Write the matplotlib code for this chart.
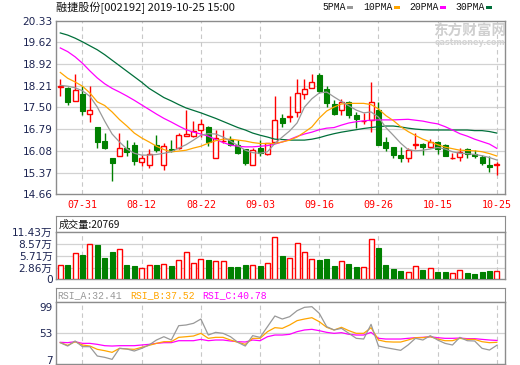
import matplotlib
matplotlib.use("Agg")
import matplotlib.pyplot as plt
from matplotlib.patches import Rectangle
import numpy as np

# ---------------- data ----------------
dates = ['07-26', '07-29', '07-30', '07-31', '08-01', '08-02', '08-05', '08-06', '08-07', '08-08',
         '08-09', '08-12', '08-13', '08-14', '08-15', '08-16', '08-19', '08-20', '08-21', '08-22',
         '08-23', '08-26', '08-27', '08-28', '08-29', '08-30', '09-02', '09-03', '09-04', '09-05',
         '09-06', '09-09', '09-10', '09-11', '09-12', '09-16', '09-17', '09-18', '09-19', '09-20',
         '09-23', '09-24', '09-25', '09-26', '09-27', '09-30', '10-08', '10-09', '10-10', '10-11',
         '10-14', '10-15', '10-16', '10-17', '10-18', '10-21', '10-22', '10-23', '10-24', '10-25']
tick_dates = ['07-31', '08-12', '08-22', '09-03', '09-16', '09-26', '10-15', '10-25']

opens = [18.15, 18.14, 17.71, 17.93, 17.27, 16.86, 16.40, 15.85, 15.92, 16.16,
         16.27, 15.72, 15.61, 16.27, 15.61, 16.13, 16.16, 16.57, 16.56, 16.75,
         16.85, 15.86, 16.39, 16.46, 16.27, 16.13, 15.63, 16.18, 15.96, 16.37,
         17.14, 17.19, 17.36, 17.93, 18.13, 18.56, 18.09, 17.61, 17.41, 17.69,
         17.25, 17.05, 17.09, 17.41, 16.37, 16.19, 15.94, 15.83, 16.27, 16.30,
         16.19, 16.37, 16.27, 15.84, 15.88, 16.13, 15.97, 15.88, 15.61, 15.63]
highs = [18.43, 18.18, 18.58, 18.20, 18.20, 16.86, 16.67, 15.85, 16.65, 16.43,
         16.37, 15.94, 16.13, 16.59, 16.32, 16.43, 16.65, 17.41, 17.05, 17.12,
         16.90, 16.76, 16.76, 16.57, 16.43, 16.13, 16.16, 16.43, 16.35, 17.88,
         17.28, 17.87, 18.42, 18.42, 18.58, 18.62, 18.20, 17.74, 17.76, 17.72,
         17.36, 17.31, 18.34, 17.69, 16.54, 16.19, 16.19, 16.16, 16.67, 16.32,
         16.45, 16.40, 16.29, 16.00, 16.16, 16.16, 16.10, 15.94, 15.91, 15.72]
lows = [17.88, 17.59, 17.71, 17.25, 17.03, 16.16, 16.13, 15.10, 15.92, 15.92,
        15.63, 15.59, 15.52, 16.03, 15.47, 16.03, 16.14, 16.57, 16.54, 16.54,
        16.24, 15.83, 16.32, 16.24, 15.96, 15.63, 15.61, 15.92, 15.94, 16.32,
        16.87, 17.03, 17.17, 17.76, 18.13, 17.96, 17.52, 17.25, 17.25, 17.14,
        16.81, 16.95, 16.70, 16.27, 16.08, 15.83, 15.72, 15.72, 16.13, 15.94,
        16.18, 15.96, 15.91, 15.81, 15.74, 15.85, 15.86, 15.63, 15.39, 15.28]
closes = [18.19, 17.69, 18.07, 17.39, 17.40, 16.37, 16.16, 15.69, 16.16, 16.03,
          15.74, 15.83, 15.99, 16.10, 16.23, 16.07, 16.59, 16.62, 16.73, 16.94,
          16.37, 16.51, 16.41, 16.27, 16.01, 15.69, 16.10, 16.00, 16.32, 17.09,
          17.00, 17.21, 17.96, 18.09, 18.32, 18.04, 17.63, 17.28, 17.69, 17.25,
          17.11, 17.07, 17.69, 16.27, 16.16, 15.94, 15.85, 16.10, 16.29, 16.19,
          16.37, 16.13, 15.92, 15.86, 16.05, 15.97, 15.91, 15.67, 15.56, 15.65]

ma5 = [18.22, 18.19, 18.14, 18.04, 17.86, 17.51, 17.05, 16.63, 16.37, 16.14,
       16.00, 15.94, 15.94, 15.96, 16.00, 16.05, 16.17, 16.28, 16.43, 16.59,
       16.64, 16.63, 16.53, 16.40, 16.25, 16.10, 16.02, 16.00, 16.05, 16.32,
       16.53, 16.73, 16.99, 17.51, 17.78, 17.97, 18.00, 17.84, 17.69, 17.55,
       17.41, 17.32, 17.35, 17.18, 16.84, 16.59, 16.33, 16.12, 16.08, 16.10,
       16.14, 16.19, 16.14, 16.05, 16.00, 15.99, 15.96, 15.92, 15.86, 15.78]
ma10 = [18.64, 18.45, 18.33, 18.19, 17.97, 17.68, 17.56, 17.35, 17.10, 16.89,
        16.66, 16.50, 16.37, 16.23, 16.12, 16.05, 16.07, 16.10, 16.17, 16.23,
        16.33, 16.41, 16.46, 16.46, 16.43, 16.40, 16.35, 16.32, 16.32, 16.32,
        16.37, 16.43, 16.53, 16.69, 16.86, 17.15, 17.38, 17.51, 17.61, 17.63,
        17.63, 17.63, 17.59, 17.45, 17.23, 17.07, 16.87, 16.71, 16.58, 16.46,
        16.37, 16.28, 16.20, 16.15, 16.10, 16.09, 16.08, 16.05, 15.99, 15.91]
ma20 = [19.44, 19.32, 19.15, 18.94, 18.69, 18.46, 18.27, 18.12, 18.00, 17.87,
        17.73, 17.58, 17.43, 17.28, 17.14, 17.02, 16.89, 16.77, 16.69, 16.63,
        16.56, 16.45, 16.35, 16.27, 16.23, 16.21, 16.21, 16.23, 16.25, 16.30,
        16.37, 16.45, 16.55, 16.63, 16.69, 16.77, 16.82, 16.84, 16.92, 16.99,
        17.03, 17.06, 17.08, 17.09, 17.09, 17.09, 17.10, 17.11, 17.08, 17.05,
        17.00, 16.96, 16.87, 16.76, 16.64, 16.56, 16.46, 16.38, 16.30, 16.16]
ma30 = [19.93, 19.86, 19.76, 19.64, 19.51, 19.38, 19.22, 19.04, 18.86, 18.68,
        18.50, 18.32, 18.12, 17.97, 17.82, 17.71, 17.59, 17.48, 17.40, 17.32,
        17.23, 17.14, 17.04, 16.94, 16.84, 16.76, 16.66, 16.59, 16.53, 16.46,
        16.45, 16.43, 16.43, 16.43, 16.46, 16.51, 16.58, 16.64, 16.69, 16.73,
        16.77, 16.81, 16.84, 16.87, 16.89, 16.89, 16.86, 16.82, 16.79, 16.77,
        16.76, 16.76, 16.76, 16.76, 16.76, 16.76, 16.74, 16.74, 16.71, 16.66]

volume_wan = [3.42, 3.42, 6.36, 5.94, 8.56, 8.38, 5.21, 6.67, 7.33, 3.50,
              3.25, 2.69, 3.42, 3.42, 3.67, 3.25, 4.64, 6.60, 3.91, 4.89,
              4.72, 4.40, 4.47, 3.01, 3.01, 3.50, 3.50, 3.25, 3.91, 10.27,
              5.70, 5.13, 8.80, 6.60, 4.89, 4.72, 4.89, 3.25, 4.40, 3.74,
              3.01, 3.01, 9.78, 7.65, 3.50, 2.52, 2.03, 1.71, 3.18, 2.27,
              2.69, 1.78, 1.78, 1.54, 2.20, 1.54, 1.22, 1.78, 2.03, 2.08]
last_volume = 20769

rsi_a = [36.9, 31.1, 39.8, 30.0, 30.0, 13.9, 11.6, 8.1, 27.1, 26.0,
         22.5, 27.1, 32.9, 41.5, 47.2, 41.5, 66.2, 67.4, 70.3, 77.7,
         50.1, 54.7, 53.0, 47.2, 37.5, 31.1, 49.0, 46.1, 64.5, 82.9,
         77.7, 81.8, 92.1, 97.9, 99.0, 87.5, 64.5, 58.8, 61.6, 53.0,
         44.4, 43.2, 68.5, 31.1, 28.3, 26.0, 23.7, 32.9, 44.4, 41.5,
         49.0, 41.5, 35.7, 32.9, 46.1, 40.3, 39.8, 27.1, 24.2, 32.41]
rsi_b = [36.9, 32.3, 38.6, 32.9, 31.1, 25.4, 23.1, 20.2, 27.1, 26.0,
         25.4, 28.8, 32.3, 35.7, 38.6, 38.6, 46.1, 47.2, 48.4, 53.0,
         44.4, 46.1, 46.1, 41.5, 37.5, 34.0, 44.4, 44.4, 55.9, 62.8,
         61.6, 67.4, 74.9, 77.7, 80.0, 73.1, 63.4, 58.8, 63.4, 57.6,
         53.0, 53.0, 62.8, 41.5, 38.6, 38.0, 38.0, 41.5, 45.5, 45.5,
         47.2, 43.2, 40.3, 40.3, 44.4, 42.6, 42.6, 38.6, 36.9, 37.52]
rsi_c = [37.5, 36.9, 38.6, 35.7, 35.7, 34.0, 31.7, 31.1, 31.7, 31.7,
         31.7, 32.9, 34.0, 35.7, 36.9, 36.9, 40.3, 40.3, 40.3, 42.6,
         40.3, 41.5, 41.5, 39.8, 38.6, 38.0, 41.5, 40.3, 47.2, 50.1,
         50.1, 51.3, 55.9, 58.8, 59.9, 57.6, 54.7, 53.0, 54.2, 51.3,
         50.1, 50.1, 54.7, 44.4, 43.2, 43.2, 43.2, 44.4, 45.5, 46.1,
         47.2, 45.5, 44.4, 44.4, 44.9, 43.8, 43.8, 42.6, 41.5, 40.78]

price_ticks = [14.66, 15.37, 16.08, 16.79, 17.50, 18.21, 18.92, 19.62, 20.33]
vol_ticks = [0, 2.86, 5.71, 8.57, 11.43]
rsi_ticks = [7, 53, 99]

title = "融捷股份[002192] 2019-10-25 15:00"
ma_names = ["5PMA", "10PMA", "20PMA", "30PMA"]

# ---------------- style ----------------
W, H = 520, 365
RED = "#ff0000"
GREEN = "#008000"
C5, C10, C20, C30 = "#999999", "#ffa500", "#ff00ff", "#006f3a"
BORDER = "#8c8c8c"
GRID = "#d2d2d2"
VGRID = "#c8c8c8"
LBL = "#1c2452"
CJK = ["Noto Sans CJK SC", "DejaVu Sans"]
MONO = ["Liberation Mono", "DejaVu Sans Mono"]

fig = plt.figure(figsize=(W / 100, H / 100), dpi=100)
fig.patch.set_facecolor("white")

L, R = 56, 505


def rect(top, bottom):
    return [L / W, 1 - bottom / H, (R - L) / W, (bottom - top) / H]


n = len(closes)
x = np.arange(n)
xlim = (-0.58, n - 1 + 1.1)
tick_idx = [dates.index(d) for d in tick_dates]


def style_axes(ax):
    for s in ax.spines.values():
        s.set_color(BORDER)
        s.set_linewidth(1.0)
    ax.set_xlim(*xlim)
    ax.tick_params(length=0)
    for i in tick_idx:
        ax.axvline(i, color=VGRID, lw=0.8, ls=(0, (4, 3)), zorder=0.5)


# ---------------- price panel ----------------
ax = fig.add_axes(rect(20.7, 194.3))
style_axes(ax)
ax.set_ylim(price_ticks[0], price_ticks[-1])
ax.set_yticks(price_ticks)
ax.set_yticklabels([f"{v:.2f}" for v in price_ticks], fontsize=7.6, color=LBL,
                   family="DejaVu Sans")
ax.tick_params(axis="y", pad=2.5)
for v in price_ticks[1:-1]:
    ax.axhline(v, color=GRID, lw=0.9, zorder=0.4)
ax.set_xticks(tick_idx)
ax.set_xticklabels(tick_dates, color=RED, fontsize=7.2, family="DejaVu Sans Mono")
ax.tick_params(axis="x", pad=4)

o = np.array(opens); c = np.array(closes); h = np.array(highs); lo = np.array(lows)
up = c >= o
bw = 0.66
ax.vlines(x[up], lo[up], h[up], color=RED, lw=1.0, zorder=2)
ax.vlines(x[~up], lo[~up], h[~up], color=GREEN, lw=1.0, zorder=2)
body_lo = np.minimum(o, c)
body_h = np.maximum(np.abs(c - o), 0.004)
ax.bar(x[up], body_h[up], bottom=body_lo[up], width=bw, facecolor="white",
       edgecolor=RED, linewidth=1.0, zorder=3)
ax.bar(x[~up], body_h[~up], bottom=body_lo[~up], width=bw, facecolor=GREEN,
       edgecolor=GREEN, linewidth=0.8, zorder=3)

for vals, col in [(ma30, C30), (ma20, C20), (ma10, C10), (ma5, C5)]:
    ax.plot(x, vals, color=col, lw=0.9, zorder=4)

# title and legend
fig.text(L / W, 1 - 8 / H, title, fontsize=8, family=CJK, va="center", ha="left",
         color="#111111")
leg_x = [322, 363, 409, 455]
for name, lx, col in zip(ma_names, leg_x, [C5, C10, C20, C30]):
    t = fig.text(lx / W, 1 - 7.5 / H, name, fontsize=7, family=MONO, va="center",
                 ha="left", color="#111111")
    sq_x = lx + len(name) * 5.85 + 2
    fig.patches.append(Rectangle((sq_x / W, 1 - 9 / H), 6 / W, 3.4 / H,
                                 transform=fig.transFigure, facecolor=col,
                                 edgecolor="none"))

# watermark
fig.text(470 / W, 1 - 31 / H, "东方财富网", fontsize=10.5, family=CJK, weight="bold",
         color="#cfcfcf", ha="center", va="center", zorder=0)
fig.text(470 / W, 1 - 42.5 / H, "eastmoney.com", fontsize=5.8, family="DejaVu Sans",
         weight="bold", color="#d4d4d4", ha="center", va="center", zorder=0)

# ---------------- volume panel ----------------
axvh = fig.add_axes(rect(215.7, 232.3))
for s in axvh.spines.values():
    s.set_color(BORDER)
axvh.set_xticks([]); axvh.set_yticks([])
axvh.text(0.005, 0.45, f"成交量:{last_volume}", transform=axvh.transAxes, fontsize=7.3,
          family=CJK, va="center", ha="left", color="#111111")

axv = fig.add_axes(rect(232.3, 279.3))
style_axes(axv)
axv.set_ylim(0, vol_ticks[-1])
axv.set_yticks(vol_ticks)
axv.set_yticklabels(["0"] + [f"{v:.2f}万" for v in vol_ticks[1:]], fontsize=7.6,
                    color=LBL, family=["DejaVu Sans", "Noto Sans CJK SC"])
axv.tick_params(axis="y", pad=2.5)
axv.set_xticks([])
for v in vol_ticks[1:-1]:
    axv.axhline(v, color=GRID, lw=0.9, zorder=0.4)
vol = np.array(volume_wan)
axv.bar(x[up], vol[up], width=bw, facecolor="white", edgecolor=RED, linewidth=1.0,
        zorder=3)
axv.bar(x[~up], vol[~up], width=bw, facecolor=GREEN, edgecolor=GREEN, linewidth=0.8,
        zorder=3)

# ---------------- RSI panel ----------------
axrh = fig.add_axes(rect(288.3, 301.7))
for s in axrh.spines.values():
    s.set_color(BORDER)
axrh.set_xticks([]); axrh.set_yticks([])
rsi_labels = [("RSI_A", rsi_a, C5, 57), ("RSI_B", rsi_b, C10, 130), ("RSI_C", rsi_c, C20, 202)]
for name, vals, col, px in rsi_labels:
    fig.text(px / W, 1 - 295.3 / H, f"{name}:{vals[-1]:.2f}", fontsize=7, family=MONO,
             color=col, va="center", ha="left")

axr = fig.add_axes(rect(301.7, 364))
style_axes(axr)
axr.set_ylim(0.1, 107.6)
axr.set_yticks(rsi_ticks)
axr.set_yticklabels([str(v) for v in rsi_ticks], fontsize=7.6, color=LBL,
                    family="DejaVu Sans")
axr.tick_params(axis="y", pad=2.5)
axr.set_xticks([])
axr.axhline(53, color=GRID, lw=0.9, zorder=0.4)
for name, vals, col, px in [rsi_labels[2], rsi_labels[1], rsi_labels[0]]:
    axr.plot(x, vals, color=col, lw=0.9, zorder=3)

fig.savefig("out.png", dpi=100)
